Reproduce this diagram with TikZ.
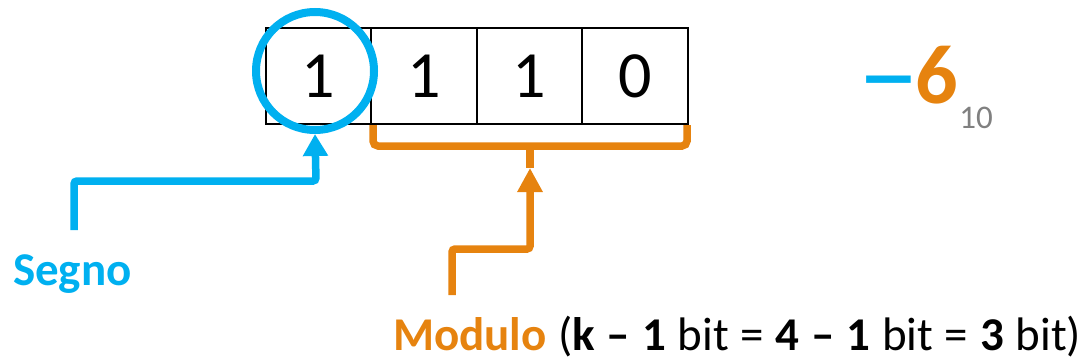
\documentclass[tikz,border=0pt]{standalone}
\usepackage{fontspec}
\setmainfont{Carlito}
\usetikzlibrary{arrows.meta}
\definecolor{segblue}{HTML}{00B0F0}
\definecolor{modorange}{HTML}{E6830F}
\definecolor{subgray}{HTML}{808080}
\begin{document}
\begin{tikzpicture}[x=1pt,y=-1pt,
  cell/.style={draw=black,line width=2pt,minimum width=105.5pt,minimum height=96pt,inner sep=0pt,outer sep=0pt,font=\fontsize{66}{66}\selectfont},
  signring/.style={draw=segblue,line width=8pt,circle,minimum size=118pt,inner sep=0pt,outer sep=4pt},
  bluearrow/.style={draw=segblue,line width=7.5pt,rounded corners=3pt,-{Triangle[width=24pt,length=22pt]}},
  orangearrow/.style={draw=modorange,line width=7.5pt,rounded corners=3pt,-{Triangle[width=24pt,length=24pt]}},
  brace/.style={draw=modorange,line width=7.5pt,rounded corners=5pt},
  label/.style={inner sep=0pt,outer sep=0pt,anchor=base west,font=\fontsize{47}{47}\selectfont}]
\useasboundingbox (0,0) rectangle (1083,361);
% cells
\node[cell] (c1) at (318.3,76) {1};
\node[cell] (c2) at (423.9,76) {1};
\node[cell] (c3) at (529.5,76) {1};
\node[cell] (c4) at (635.1,76) {0};
% sign ring
\node[signring] (ring) at (315,71) {};
% value
\node[inner sep=0pt,outer sep=0pt,anchor=base west,font=\fontsize{84}{84}\selectfont\bfseries] (val) at (857,103) {\textcolor{segblue}{\scalebox{1.5}[1]{–}}\kern-4pt\textcolor{modorange}{6}};
\node[inner sep=0pt,outer sep=0pt,anchor=base west,font=\fontsize{33}{33}\selectfont,text=subgray] (base) at ([xshift=1pt,yshift=-25pt]val.base east) {10};
% segno
\node[label,text=segblue,font=\fontsize{47}{47}\selectfont\bfseries] (segno) at (13,285) {Segno};
\coordinate (segtail) at (74,230);
\draw[bluearrow] (segtail) -- (74,181) -- (316,181) -- (ring.south);
% modulo brace
\draw[brace] (373,125) -- (373,146) -- (687,146) -- (687,125);
\coordinate (bracetip) at (530,168);
\draw[draw=modorange,line width=7.5pt] (530,146) -- (bracetip);
% modulo label
\node[label] (modulo) at (393,350) {\spaceskip=0.25em plus 0.05em\relax\textcolor{modorange}{\bfseries Modulo} (\textbf{k – 1} bit = \textbf{4 – 1} bit = \textbf{3} bit)};
\coordinate (modtail) at (452,295);
\draw[orangearrow] (modtail) -- (452,249) -- (530,249) -- (bracetip);
\end{tikzpicture}
\end{document}
